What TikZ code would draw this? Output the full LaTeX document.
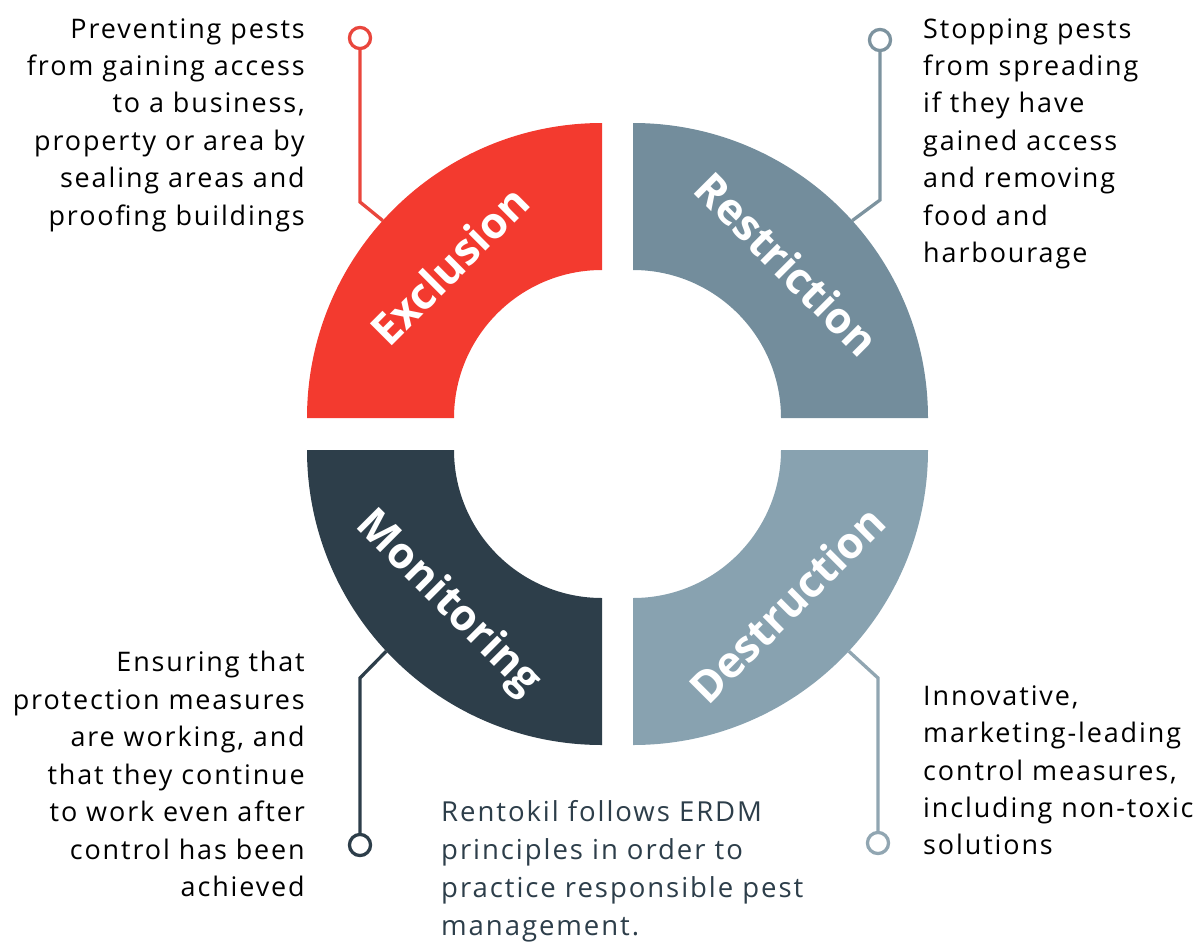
\documentclass[tikz,border=0pt]{standalone}
\usepackage{fontspec}
\setmainfont{Open Sans}[LetterSpace=7]
\usetikzlibrary{positioning, calc}

\definecolor{exred}{HTML}{F33A2F}
\definecolor{resgray}{HTML}{738D9C}
\definecolor{mondark}{HTML}{2D3E4A}
\definecolor{desgray}{HTML}{88A2B0}
\definecolor{exline}{HTML}{E9463D}
\definecolor{resline}{HTML}{7D939F}
\definecolor{desline}{HTML}{91A6B2}

\begin{document}
\begin{tikzpicture}[x=0.03cm, y=-0.03cm,
    txt/.style={font=\fontsize{23}{32}\selectfont, inner sep=0pt},
    seglabel/.style={text=white, font=\fontsize{37}{37}\selectfont\bfseries\addfontfeature{LetterSpace=0}, inner sep=0pt},
    pin/.style={circle, line width=2.8pt, fill=white, minimum size=18pt, inner sep=0pt},
    lead/.style={line width=2.8pt}]
    \useasboundingbox (0,0) rectangle (1200,950);

    % the four quarter rings
    \foreach \cx/\cy/\a/\col in {602/418/180/exred, 633/418/270/resgray, 602/450/90/mondark, 633/450/0/desgray}
    {
        \fill[\col] (\cx,\cy) ++(\a:295) arc[start angle=\a, end angle=\a+90, radius=295]
            -- ++(\a+270:147) arc[start angle=\a+90, end angle=\a, radius=148] -- cycle;
    }

    % words on the rings
    \node[seglabel, rotate=45] (exclusion) at ($(602,418)+(225:216)$) {Exclusion};
    \node[seglabel, rotate=-45] (restriction) at ($(633,418)+(315:218)$) {Restriction};
    \node[seglabel, rotate=-45] (monitoring) at ($(602,450)+(135:218)$) {Monitoring};
    \node[seglabel, rotate=45] (destruction) at ($(633,450)+(45:218)$) {Destruction};

    % leads with their pins
    \path (602,418) ++(222:295) coordinate (excfoot);
    \path (633,418) ++(318:295) coordinate (resfoot);
    \path (602,450) ++(137:295) coordinate (monfoot);
    \path (633,450) ++(43:295) coordinate (desfoot);
    \coordinate (excbend) at (360,202);
    \coordinate (resbend) at (880,200);
    \coordinate (monbend) at (360,678);
    \coordinate (desbend) at (878,678);
    \node[pin, draw=exline] (excpin) at (360,38) {};
    \node[pin, draw=resline] (respin) at (880,40) {};
    \node[pin, draw=mondark] (monpin) at (360,845) {};
    \node[pin, draw=desline] (despin) at (878,843) {};
    \draw[lead, exline] (excpin) -- (excbend) -- (excfoot);
    \draw[lead, resline] (respin) -- (resbend) -- (resfoot);
    \draw[lead, mondark] (monpin) -- (monbend) -- (monfoot);
    \draw[lead, desline] (despin) -- (desbend) -- (desfoot);

    % texts
    \node[txt, anchor=north east, align=right] (exctext) at (305,18)
        {Preventing pests\\from gaining access\\to a business,\\property or area by\\sealing areas and\\proofing buildings};
    \node[txt, anchor=north west, align=left] (restext) at (923,18)
        {Stopping pests\\from spreading\\if they have\\gained access\\and removing\\food and\\harbourage};
    \node[txt, anchor=north east, align=right] (montext) at (305,651)
        {Ensuring that\\protection measures\\are working, and\\that they continue\\to work even after\\control has been\\achieved};
    \node[txt, anchor=north west, align=left] (destext) at (923,685)
        {Innovative,\\marketing-leading\\control measures,\\including non-toxic\\solutions};
    \node[txt, text=mondark, font=\fontsize{23.5}{32.5}\selectfont, anchor=north west, align=left] (erdm) at (441,800)
        {Rentokil follows ERDM\\principles in order to\\practice responsible pest\\management.};
\end{tikzpicture}
\end{document}
